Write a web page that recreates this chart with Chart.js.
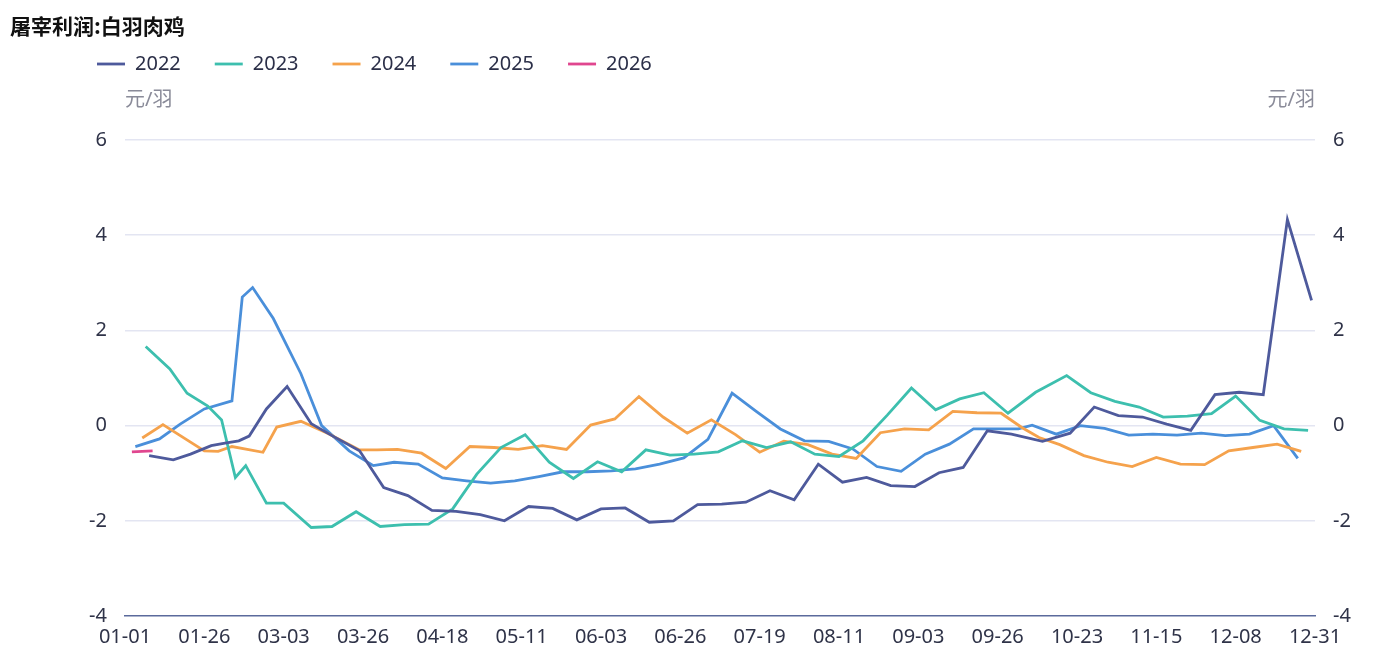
<!DOCTYPE html>
<html>
<head>
<meta charset="utf-8">
<script src="https://cdn.jsdelivr.net/npm/chart.js@4"></script>
<style>
body{margin:0;background:#fff;}
#wrap{position:relative;width:1397px;height:660px;}
#titulo{position:absolute;left:10px;top:10px;font:bold 21px "Noto Sans CJK SC","Noto Sans",sans-serif;color:#111;}
</style>
</head>
<body>
<div id="wrap">
<div id="titulo">屠宰利润:白羽肉鸡</div>
<canvas id="grafico"></canvas>
</div>
<script>
// eixo x: dias do ano sem os feriados (categorias), rótulos visíveis
const tickLabels=["01-01","01-26","03-03","03-26","04-18","05-11","06-03","06-26","07-19","08-11","09-03","09-26","10-23","11-15","12-08","12-31"];
const skipRanges=[["01-02","01-03"],["02-05","02-17"],["10-01","10-04"]];
const diasMes=[31,28,31,30,31,30,31,31,30,31,30,31];

const dates2022=["01-10","01-17","01-22","01-28","02-01","02-18","02-21","02-26","03-04","03-11","03-17","03-25","04-01","04-08","04-15","04-22","04-29","05-06","05-13","05-20","05-27","06-03","06-10","06-17","06-24","07-01","07-08","07-15","07-22","07-29","08-05","08-12","08-19","08-26","09-02","09-09","09-16","09-23","09-30","10-13","10-21","10-28","11-04","11-11","11-18","11-25","12-02","12-09","12-16","12-23","12-30"];
const vals2022=[-0.63,-0.72,-0.6,-0.42,-0.37,-0.32,-0.22,0.35,0.82,0.04,-0.21,-0.53,-1.30,-1.47,-1.78,-1.80,-1.87,-2.0,-1.70,-1.74,-1.98,-1.75,-1.73,-2.03,-2.0,-1.66,-1.65,-1.61,-1.37,-1.56,-0.81,-1.19,-1.09,-1.26,-1.28,-0.99,-0.88,-0.11,-0.18,-0.33,-0.16,0.39,0.21,0.18,0.03,-0.1,0.65,0.70,0.65,4.33,2.63];

const dates2023=["01-09","01-16","01-21","01-27","01-31","02-04","02-20","02-26","03-03","03-11","03-17","03-24","03-31","04-07","04-14","04-21","04-28","05-05","05-12","05-19","05-26","06-02","06-09","06-16","06-23","06-30","07-07","07-14","07-21","07-28","08-04","08-11","08-18","08-25","09-01","09-08","09-15","09-22","09-29","10-11","10-20","10-27","11-03","11-10","11-17","11-24","12-01","12-08","12-15","12-22","12-29"];
const vals2023=[1.66,1.19,0.68,0.41,0.12,-1.09,-0.84,-1.63,-1.63,-2.14,-2.12,-1.81,-2.12,-2.08,-2.07,-1.75,-1.02,-0.46,-0.19,-0.77,-1.11,-0.76,-0.97,-0.51,-0.62,-0.6,-0.55,-0.32,-0.46,-0.34,-0.6,-0.65,-0.32,0.22,0.79,0.33,0.56,0.69,0.26,0.70,1.05,0.69,0.51,0.39,0.18,0.2,0.25,0.62,0.11,-0.07,-0.1];

const dates2024=["01-08","01-14","01-26","01-30","02-03","02-25","03-01","03-08","03-16","03-25","03-30","04-05","04-12","04-19","04-26","05-03","05-10","05-17","05-24","05-31","06-07","06-14","06-21","06-28","07-05","07-12","07-19","07-26","08-02","08-09","08-16","08-23","08-30","09-06","09-13","09-20","09-27","10-07","10-12","10-18","10-25","11-01","11-08","11-15","11-22","11-29","12-06","12-13","12-20","12-27"];
const vals2024=[-0.26,0.02,-0.53,-0.54,-0.44,-0.56,-0.03,0.09,-0.17,-0.51,-0.51,-0.5,-0.58,-0.9,-0.44,-0.46,-0.5,-0.42,-0.5,0.01,0.14,0.61,0.18,-0.16,0.12,-0.19,-0.56,-0.33,-0.4,-0.6,-0.69,-0.15,-0.07,-0.09,0.3,0.27,0.26,-0.04,-0.25,-0.4,-0.63,-0.77,-0.86,-0.67,-0.81,-0.82,-0.53,-0.46,-0.39,-0.54];

const dates2025=["01-06","01-13","01-19","01-26","02-03","02-19","02-22","02-28","03-08","03-14","03-22","03-29","04-04","04-11","04-18","04-25","05-02","05-09","05-16","05-23","05-30","06-06","06-13","06-20","06-27","07-04","07-11","07-18","07-25","08-01","08-08","08-15","08-22","08-29","09-05","09-12","09-19","09-26","10-06","10-10","10-17","10-24","10-31","11-07","11-14","11-21","11-28","12-05","12-12","12-19","12-26"];
const vals2025=[-0.44,-0.28,0.03,0.35,0.52,2.70,2.90,2.25,1.09,0.0,-0.53,-0.84,-0.77,-0.81,-1.1,-1.16,-1.21,-1.16,-1.07,-0.97,-0.97,-0.95,-0.91,-0.81,-0.68,-0.29,0.68,0.3,-0.07,-0.32,-0.33,-0.49,-0.86,-0.96,-0.6,-0.39,-0.07,-0.07,-0.07,0.01,-0.18,0.0,-0.06,-0.2,-0.18,-0.2,-0.16,-0.21,-0.18,0.0,-0.69];

const dates2026=["01-05","01-11"];
const vals2026=[-0.55,-0.53];

const anos=["2022","2023","2024","2025","2026"];
const cores=["#4e5a9c","#3dbfae","#f5a24c","#4a8fda","#e0468f"];
const series=[[dates2022,vals2022],[dates2023,vals2023],[dates2024,vals2024],[dates2025,vals2025],[dates2026,vals2026]];

function pad(n){return (n<10?"0":"")+n;}
let pular=new Set();
skipRanges.forEach(r=>{
let m=parseInt(r[0].slice(0,2)),d1=parseInt(r[0].slice(3)),d2=parseInt(r[1].slice(3));
for(let d=d1;d<=d2;d++)pular.add(pad(m)+"-"+pad(d));
});
let categorias=[];
for(let m=1;m<=12;m++){
for(let d=1;d<=diasMes[m-1];d++){
let s=pad(m)+"-"+pad(d);
if(!pular.has(s))categorias.push(s);
}
}

let datasets=series.map((s,i)=>({
label:anos[i],
data:s[0].map((d,j)=>({x:d,y:s[1][j]})),
borderColor:cores[i],
backgroundColor:cores[i],
borderWidth:2.8,
pointRadius:0,
tension:0,
yAxisID:"y"
}));

const fonte='"Noto Sans","Noto Sans CJK SC",sans-serif';

const unidade={
id:"unidade",
afterDraw(chart){
let c=chart.ctx,a=chart.chartArea;
c.save();
c.font="20px "+fonte;
c.fillStyle="#8a8b99";
c.textBaseline="middle";
c.textAlign="left";
c.fillText("元/羽",a.left,100);
c.textAlign="right";
c.fillText("元/羽",a.right,100);
c.restore();
}
};

const margemLegenda={
id:"margemLegenda",
beforeInit(chart){
let fit=chart.legend.fit;
chart.legend.fit=function(){fit.bind(chart.legend)();this.height=120;};
}
};

new Chart(document.getElementById("grafico"),{
type:"line",
data:{labels:categorias,datasets:datasets},
plugins:[unidade,margemLegenda],
options:{
responsive:true,
maintainAspectRatio:false,
animation:false,
layout:{padding:{left:63,top:20,right:0,bottom:2}},
plugins:{
title:{display:false},
tooltip:{enabled:false},
legend:{
position:"top",
align:"start",
labels:{usePointStyle:true,pointStyle:"line",pointStyleWidth:28,boxHeight:20,padding:34,color:"#2b2f48",font:{size:20,family:fonte}}
}
},
scales:{
x:{
type:"category",
grid:{display:false,drawTicks:false},
border:{display:true,color:"#5b6a9c",width:1.5},
ticks:{autoSkip:false,maxRotation:0,padding:9,color:"#2f3348",font:{size:20,family:fonte},
callback(v){let l=this.getLabelForValue(v);return tickLabels.includes(l)?l:"";}}
},
y:{
position:"left",
min:-4,max:6,
afterFit(s){s.width=62;},
border:{display:false},
grid:{drawTicks:false,lineWidth:1.5,color:c=>c.tick.value===-4?"rgba(0,0,0,0)":"#e3e5f2"},
ticks:{stepSize:2,padding:18,color:"#2f3348",font:{size:20,family:fonte}}
},
y1:{
position:"right",
min:-4,max:6,
afterFit(s){s.width=82;},
border:{display:false},
grid:{display:false,drawTicks:false},
ticks:{stepSize:2,padding:18,color:"#2f3348",font:{size:20,family:fonte}}
}
}
}
});
</script>
</body>
</html>
